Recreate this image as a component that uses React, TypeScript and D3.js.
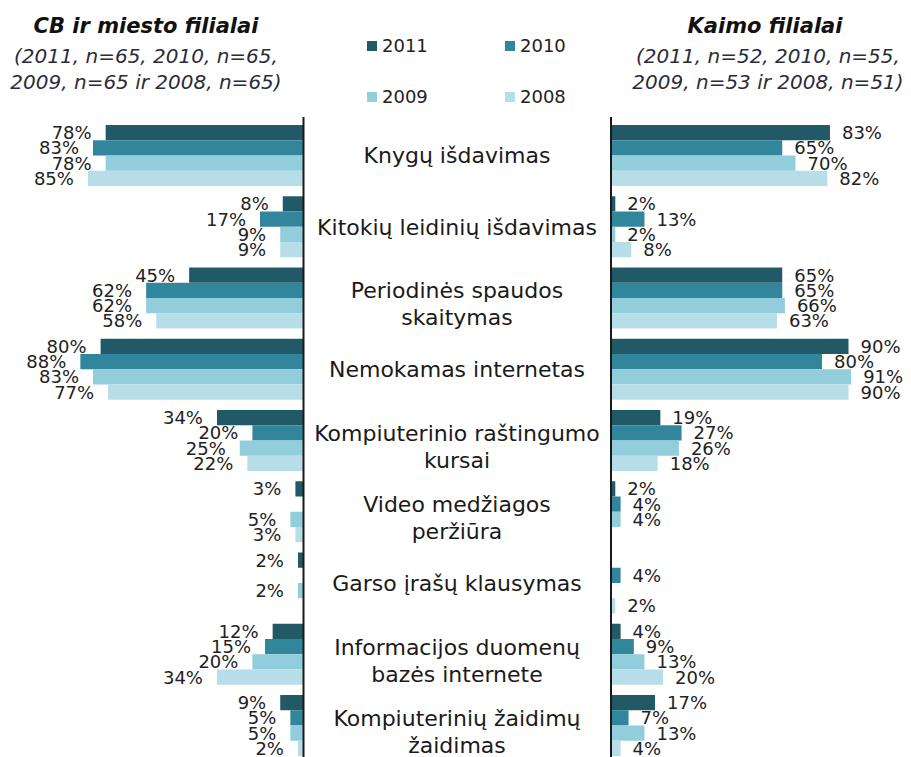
import React from 'react';
import * as d3 from 'd3';

const categories = [
  'Knygų išdavimas',
  'Kitokių leidinių išdavimas',
  'Periodinės spaudos\nskaitymas',
  'Nemokamas internetas',
  'Kompiuterinio raštingumo\nkursai',
  'Video medžiagos\nperžiūra',
  'Garso įrašų klausymas',
  'Informacijos duomenų\nbazės internete',
  'Kompiuterinių žaidimų\nžaidimas',
];

const years = ['2011', '2010', '2009', '2008'];
const colors = ['#215967', '#31869B', '#92CDDC', '#B7DEE8'];

// CB ir miesto filialai
const city2011 = [78, 8, 45, 80, 34, 3, 2, 12, 9];
const city2010 = [83, 17, 62, 88, 20, null, null, 15, 5];
const city2009 = [78, 9, 62, 83, 25, 5, 2, 20, 5];
const city2008 = [85, 9, 58, 77, 22, 3, null, 34, 2];

// Kaimo filialai
const rural2011 = [83, 2, 65, 90, 19, 2, null, 4, 17];
const rural2010 = [65, 13, 65, 80, 27, 4, 4, 9, 7];
const rural2009 = [70, 2, 66, 91, 26, 4, null, 13, 13];
const rural2008 = [82, 8, 63, 90, 18, null, 2, 20, 4];

const citySeries = [city2011, city2010, city2009, city2008];
const ruralSeries = [rural2011, rural2010, rural2009, rural2008];

const W = 911;
const H = 757;
const FONT = '"DejaVu Sans", Verdana, sans-serif';

export default function App() {
  const leftZero = 303;
  const rightZero = 610;
  const xL = d3.scaleLinear().domain([0, 100]).range([leftZero, leftZero - 253]);
  const xR = d3.scaleLinear().domain([0, 100]).range([rightZero, rightZero + 265]);
  const y = d3
    .scaleBand<string>()
    .domain(categories)
    .range([119.9, 761.1])
    .paddingInner(0.144)
    .paddingOuter(0.072);
  const yInner = d3.scaleBand<string>().domain(years).range([0, y.bandwidth()]);

  const bars: React.ReactNode[] = [];
  const labels: React.ReactNode[] = [];
  categories.forEach((c, ci) => {
    years.forEach((yr, si) => {
      const yy = (y(c) as number) + (yInner(yr) as number);
      const h = yInner.bandwidth();
      const cv = citySeries[si][ci];
      if (cv != null) {
        bars.push(
          <rect key={`l${ci}-${si}`} x={xL(cv)} y={yy} width={leftZero - xL(cv)} height={h} fill={colors[si]} />
        );
        labels.push(
          <text key={`lt${ci}-${si}`} x={xL(cv) - 14} y={yy + h / 2} dy="0.36em" textAnchor="end" fontSize={18} fill="#222">
            {cv}%
          </text>
        );
      }
      const rv = ruralSeries[si][ci];
      if (rv != null) {
        bars.push(
          <rect key={`r${ci}-${si}`} x={rightZero} y={yy} width={xR(rv) - rightZero} height={h} fill={colors[si]} />
        );
        labels.push(
          <text key={`rt${ci}-${si}`} x={xR(rv) + 12} y={yy + h / 2} dy="0.36em" textAnchor="start" fontSize={18} fill="#222">
            {rv}%
          </text>
        );
      }
    });
  });

  const catLabels = categories.map((c, ci) => {
    const lines = c.split('\n');
    const cy = (y(c) as number) + y.bandwidth() / 2;
    const lh = 27;
    const off = lines.length > 1 ? 6 : 0;
    return (
      <text key={`c${ci}`} x={457} textAnchor="middle" fontSize={22} fill="#1a1a1a">
        {lines.map((ln, li) => (
          <tspan key={li} x={457} y={cy + off + (li - (lines.length - 1) / 2) * lh} dy="0.36em">
            {ln}
          </tspan>
        ))}
      </text>
    );
  });

  const legendPos = [
    { x: 367, y: 46 },
    { x: 505, y: 46 },
    { x: 367, y: 97 },
    { x: 505, y: 97 },
  ];

  return (
    <svg width={W} height={H} style={{ position: 'absolute', left: 0, top: 0, fontFamily: FONT }}>
      <rect x={0} y={0} width={W} height={H} fill="#fff" />
      {bars}
      <line x1={303.5} x2={303.5} y1={117} y2={H} stroke="#1a1a1a" strokeWidth={2} />
      <line x1={611} x2={611} y1={117} y2={H} stroke="#1a1a1a" strokeWidth={2} />
      {labels}
      {catLabels}

      <text x={146} y={33} textAnchor="middle" fontSize={21} fontWeight="bold" fontStyle="italic" fill="#111">
        CB ir miesto filialai
      </text>
      <text x={146} y={63} textAnchor="middle" fontSize={20} fontStyle="italic" fill="#2b2b3a">
        (2011, n=65, 2010, n=65,
      </text>
      <text x={146} y={89} textAnchor="middle" fontSize={20} fontStyle="italic" fill="#2b2b3a">
        2009, n=65 ir 2008, n=65)
      </text>

      <text x={765} y={33} textAnchor="middle" fontSize={21} fontWeight="bold" fontStyle="italic" fill="#111">
        Kaimo filialai
      </text>
      <text x={768} y={63} textAnchor="middle" fontSize={20} fontStyle="italic" fill="#2b2b3a">
        (2011, n=52, 2010, n=55,
      </text>
      <text x={768} y={89} textAnchor="middle" fontSize={20} fontStyle="italic" fill="#2b2b3a">
        2009, n=53 ir 2008, n=51)
      </text>

      {years.map((yr, i) => (
        <g key={yr}>
          <rect x={legendPos[i].x} y={legendPos[i].y - 5} width={10} height={10} fill={colors[i]} />
          <text x={legendPos[i].x + 15} y={legendPos[i].y} dy="0.36em" fontSize={18} fill="#222">
            {yr}
          </text>
        </g>
      ))}
    </svg>
  );
}
